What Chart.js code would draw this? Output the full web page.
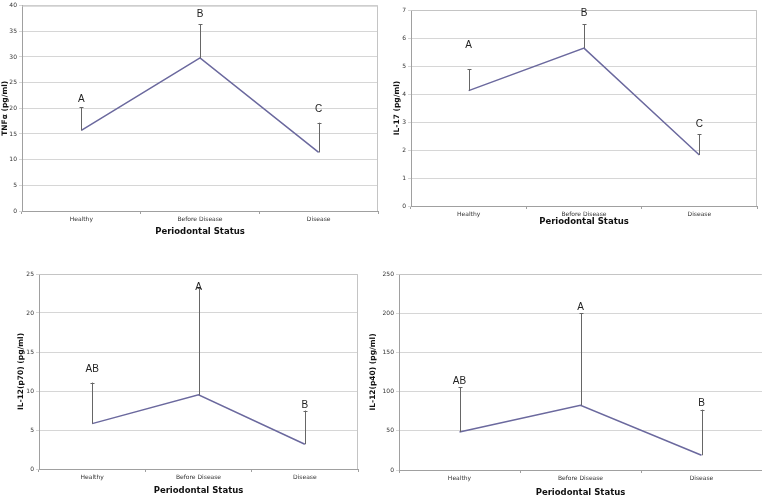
<!DOCTYPE html>
<html>
<head>
<meta charset="utf-8">
<script src="https://cdn.jsdelivr.net/npm/chart.js@4.4.1/dist/chart.umd.min.js"></script>
<style>
  html, body { margin: 0; padding: 0; background: #fff; }
  body { width: 762px; height: 498px; position: relative; overflow: hidden; }
  canvas { position: absolute; }
</style>
</head>
<body>
<canvas id="tnf"></canvas>
<canvas id="il17"></canvas>
<canvas id="p70"></canvas>
<canvas id="p40"></canvas>

<script>
// ================= DATA =================
const categories = ["Healthy", "Before Disease", "Disease"];

const tnfMean = [15.7, 29.8, 11.4];
const tnfUpper = [20.2, 36.4, 17.2];
const tnfLetters = ["A", "B", "C"];
const tnfLetterAt = [21.7, 38.4, 19.8];
const tnfTicks = [0, 5, 10, 15, 20, 25, 30, 35, 40];

const il17Mean = [4.12, 5.64, 1.82];
const il17Upper = [4.88, 6.5, 2.57];
const il17Letters = ["A", "B", "C"];
const il17LetterAt = [5.74, 6.87, 2.91];
const il17Ticks = [0, 1, 2, 3, 4, 5, 6, 7];

const p70Mean = [5.82, 9.5, 3.17];
const p70Upper = [11.08, 23.2, 7.49];
const p70Letters = ["AB", "A", "B"];
const p70LetterAt = [12.84, 23.3, 8.18];
const p70Ticks = [0, 5, 10, 15, 20, 25];

const p40Mean = [48.5, 82.6, 18.8];
const p40Upper = [105.6, 200.1, 77];
const p40Letters = ["AB", "A", "B"];
const p40LetterAt = [113.3, 207.3, 85.6];
const p40Ticks = [0, 50, 100, 150, 200, 250];

// ================= STYLE =================
const LINE_COLOR = "#6b699e";
const ERR_COLOR = "#666666";
const GRID_COLOR = "#d6d6d6";
const AXIS_COLOR = "#a0a0a0";
const FONT = "'DejaVu Sans', Verdana, sans-serif";

Chart.defaults.font.family = FONT;
Chart.defaults.color = "#333";

// ================= PLUGINS =================
const framePlugin = {
    id: "frame",
    beforeDatasetsDraw(chart, args, opts) {
        const { ctx, chartArea: a } = chart;
        ctx.save();
        ctx.strokeStyle = "#c4c4c4";
        ctx.lineWidth = 1;
        ctx.beginPath();
        ctx.moveTo(a.left, a.top + 0.5);
        ctx.lineTo(a.right - 0.5, a.top + 0.5);
        if (opts.right) ctx.lineTo(a.right - 0.5, a.bottom);
        ctx.stroke();
        ctx.restore();
    }
};

const errorPlugin = {
    id: "errorBars",
    afterDatasetsDraw(chart, args, opts) {
        const { ctx } = chart;
        const x = chart.scales.x;
        const y = chart.scales.y;
        const mean = chart.data.datasets[0].data;

        ctx.save();
        ctx.strokeStyle = ERR_COLOR;
        ctx.lineWidth = 1;
        opts.upper.forEach((u, i) => {
            const px = Math.round(x.getPixelForValue(i)) + 0.5;
            const y0 = y.getPixelForValue(mean[i]);
            const y1 = y.getPixelForValue(u);
            ctx.beginPath();
            ctx.moveTo(px, y0);
            ctx.lineTo(px, y1);
            ctx.moveTo(px - 2, Math.round(y1) + 0.5);
            ctx.lineTo(px + 2, Math.round(y1) + 0.5);
            ctx.stroke();
        });

        ctx.fillStyle = "#222";
        ctx.font = "10px 'Liberation Sans', Arial, sans-serif";
        ctx.textAlign = "center";
        ctx.textBaseline = "middle";
        opts.letters.forEach((t, i) => {
            ctx.fillText(t, x.getPixelForValue(i), y.getPixelForValue(opts.letterAt[i]));
        });
        ctx.restore();
    }
};

// ================= BUILD =================
function makeChart(p) {
    const el = document.getElementById(p.id);
    el.width = p.width;
    el.height = p.height;
    el.style.left = p.left + "px";
    el.style.top = p.top + "px";
    el.style.width = p.width + "px";
    el.style.height = p.height + "px";

    return new Chart(el.getContext("2d"), {
        type: "line",
        data: {
            labels: categories,
            datasets: [{
                data: p.mean,
                borderColor: LINE_COLOR,
                borderWidth: 1.5,
                pointRadius: 0,
                tension: 0,
                fill: false
            }]
        },
        plugins: [framePlugin, errorPlugin],
        options: {
            responsive: false,
            animation: false,
            events: [],
            layout: { padding: { top: p.padTop, right: p.padRight, left: 0, bottom: 0 } },
            plugins: {
                legend: { display: false },
                tooltip: { enabled: false },
                frame: { right: p.rightBorder },
                errorBars: { upper: p.upper, letters: p.letters, letterAt: p.letterAt }
            },
            scales: {
                x: {
                    offset: true,
                    grid: { offset: true, drawOnChartArea: false, tickLength: 3, color: AXIS_COLOR },
                    border: { color: AXIS_COLOR },
                    ticks: { font: { size: 6 }, color: "#333", padding: 2, maxRotation: 0, autoSkip: false },
                    title: {
                        display: true,
                        text: "Periodontal Status",
                        font: { size: 8.5, weight: "bold" },
                        color: "#111",
                        padding: { top: 0, bottom: p.xTitlePad }
                    },
                    afterFit: (s) => { s.height = p.xHeight; }
                },
                y: {
                    min: p.ticks[0],
                    max: p.ticks[p.ticks.length - 1],
                    afterBuildTicks: (s) => { s.ticks = p.ticks.map(v => ({ value: v })); },
                    grid: { color: GRID_COLOR, tickLength: 3, tickColor: GRID_COLOR },
                    border: { color: AXIS_COLOR },
                    ticks: { font: { size: 6 }, color: "#333", padding: 2 },
                    title: {
                        display: true,
                        text: p.yTitle,
                        font: { size: 7.5, weight: "bold" },
                        color: "#111",
                        padding: { top: p.yTitlePad, bottom: 0 }
                    },
                    afterFit: (s) => { s.width = p.yWidth; }
                }
            }
        }
    });
}

// ================= INIT =================
makeChart({
    id: "tnf", left: 0, top: 0, width: 381, height: 249,
    padTop: 5, padRight: 3, yWidth: 22, xHeight: 38, yTitlePad: 1, xTitlePad: 12, rightBorder: true,
    yTitle: "TNFα (pg/ml)",
    mean: tnfMean, upper: tnfUpper, letters: tnfLetters, letterAt: tnfLetterAt, ticks: tnfTicks
});

makeChart({
    id: "il17", left: 381, top: 0, width: 381, height: 249,
    padTop: 10, padRight: 5, yWidth: 30, xHeight: 43, yTitlePad: 12, xTitlePad: 22, rightBorder: true,
    yTitle: "IL-17 (pg/ml)",
    mean: il17Mean, upper: il17Upper, letters: il17Letters, letterAt: il17LetterAt, ticks: il17Ticks
});

makeChart({
    id: "p70", left: 0, top: 249, width: 381, height: 249,
    padTop: 25, padRight: 23, yWidth: 39, xHeight: 29, yTitlePad: 17, xTitlePad: 2, rightBorder: true,
    yTitle: "IL-12(p70) (pg/ml)",
    mean: p70Mean, upper: p70Upper, letters: p70Letters, letterAt: p70LetterAt, ticks: p70Ticks
});

makeChart({
    id: "p40", left: 360, top: 249, width: 402, height: 249,
    padTop: 25, padRight: 0, yWidth: 39, xHeight: 28, yTitlePad: 9, xTitlePad: 0, rightBorder: false,
    yTitle: "IL-12(p40) (pg/ml)",
    mean: p40Mean, upper: p40Upper, letters: p40Letters, letterAt: p40LetterAt, ticks: p40Ticks
});
</script>
</body>
</html>
